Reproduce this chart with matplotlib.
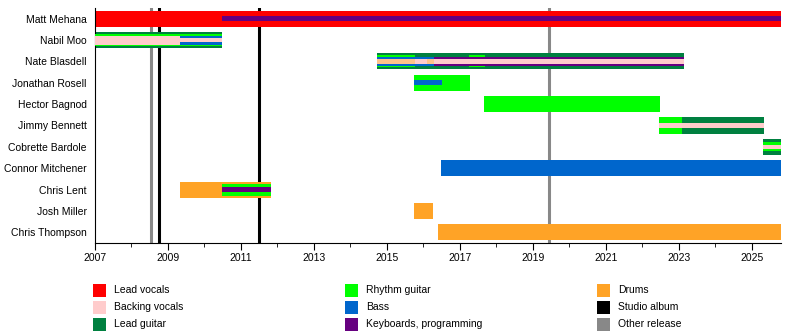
import matplotlib
matplotlib.use("Agg")
from matplotlib import pyplot as plt
from matplotlib.patches import Rectangle

plt.rcParams['font.family'] = ['Liberation Sans', 'DejaVu Sans']
plt.rcParams['font.size'] = 7.5

members = ["Matt Mehana", "Nabil Moo", "Nate Blasdell", "Jonathan Rosell", "Hector Bagnod",
           "Jimmy Bennett", "Cobrette Bardole", "Connor Mitchener", "Chris Lent",
           "Josh Miller", "Chris Thompson"]

start_date = 2007.0
end_date = 2025.8

# (member, from, to, layer)  layer 0 = full bar, 3 = thin centre stripe
lead_vocals = [("Matt Mehana", 2007.0, 2025.8, 0)]
lead_guitar = [("Nabil Moo", 2007.0, 2010.48, 0),
               ("Nate Blasdell", 2014.73, 2023.14, 0),
               ("Jimmy Bennett", 2023.1, 2025.33, 0),
               ("Cobrette Bardole", 2025.3, 2025.8, 0)]
rhythm_guitar = [("Nabil Moo", 2007.0, 2010.48, 1),
                 ("Nate Blasdell", 2014.73, 2015.77, 1),
                 ("Nate Blasdell", 2017.25, 2017.68, 1),
                 ("Jonathan Rosell", 2015.74, 2017.27, 0),
                 ("Hector Bagnod", 2017.66, 2022.48, 0),
                 ("Jimmy Bennett", 2022.45, 2023.1, 0),
                 ("Cobrette Bardole", 2025.3, 2025.8, 2),
                 ("Chris Lent", 2010.48, 2011.82, 1)]
drums = [("Chris Lent", 2009.33, 2011.82, 0),
         ("Josh Miller", 2015.74, 2016.26, 0),
         ("Chris Thompson", 2016.4, 2025.8, 0)]
bass = [("Nabil Moo", 2009.33, 2010.48, 2),
        ("Nate Blasdell", 2014.73, 2016.3, 2),
        ("Jonathan Rosell", 2015.74, 2016.5, 3),
        ("Connor Mitchener", 2016.48, 2025.8, 0)]
keyboards = [("Matt Mehana", 2010.48, 2025.8, 3),
             ("Nate Blasdell", 2016.3, 2023.14, 2),
             ("Chris Lent", 2010.48, 2011.82, 3)]
nate_drums = [("Nate Blasdell", 2014.73, 2015.77, 3),
              ("Nate Blasdell", 2016.1, 2016.3, 3)]
backing_vocals = [("Nabil Moo", 2007.0, 2009.33, 2),
                  ("Nabil Moo", 2009.33, 2010.48, 3),
                  ("Nate Blasdell", 2015.77, 2016.1, 3),
                  ("Nate Blasdell", 2016.3, 2023.14, 3),
                  ("Jimmy Bennett", 2022.45, 2025.33, 3),
                  ("Cobrette Bardole", 2025.3, 2025.8, 3)]

studio_albums = [2008.75, 2011.49]
other_releases = [2008.53, 2019.44]

colors = {
    "Lead vocals": "#ff0000",
    "Backing vocals": "#ffcccc",
    "Lead guitar": "#008040",
    "Rhythm guitar": "#00ff00",
    "Bass": "#0066cc",
    "Keyboards, programming": "#660080",
    "Drums": "#ffa326",
    "Studio album": "#000000",
    "Other release": "#888888",
}
heights = [0.75, 0.56, 0.42, 0.22]

fig = plt.figure(figsize=(8, 3.35), dpi=100)
ax = fig.add_axes([95/800, 92/335, (781-95)/800, (327-92)/335])

def draw(segments, color, z):
    for name, a, b, layer in segments:
        ax.barh(members.index(name), b - a, left=a, height=heights[layer],
                color=color, linewidth=0, zorder=z)

draw(lead_vocals, colors["Lead vocals"], 2)
draw(lead_guitar, colors["Lead guitar"], 2)
draw(drums, colors["Drums"], 2)
draw(rhythm_guitar, colors["Rhythm guitar"], 3)
draw(bass, colors["Bass"], 4)
draw(keyboards, colors["Keyboards, programming"], 4)
draw(backing_vocals, colors["Backing vocals"], 5)
draw(nate_drums, "#ffc38a", 5)

for x in studio_albums:
    ax.axvline(x, color=colors["Studio album"], lw=2.2, zorder=1)
for x in other_releases:
    ax.axvline(x, color=colors["Other release"], lw=2.2, zorder=1)

ax.set_xlim(start_date, end_date)
ax.set_ylim(len(members) - 0.5, -0.5)
ax.set_yticks(range(len(members)))
ax.set_yticklabels(members)
ax.tick_params(axis='y', length=0, pad=6)
ax.set_xticks(range(2007, 2026, 2))
ax.set_xticks(range(2007, 2026), minor=True)
ax.tick_params(axis='x', which='major', length=5, pad=2)
ax.tick_params(axis='x', which='minor', length=3)
ax.spines['top'].set_visible(False)
ax.spines['right'].set_visible(False)

legend_cols = [["Lead vocals", "Backing vocals", "Lead guitar"],
               ["Rhythm guitar", "Bass", "Keyboards, programming"],
               ["Drums", "Studio album", "Other release"]]
col_x = [93, 345, 597]
row_y = [290, 307, 324]
for cx, items in zip(col_x, legend_cols):
    for ry, label in zip(row_y, items):
        fig.add_artist(Rectangle((cx/800, (335 - ry - 6.5)/335), 13/800, 13/335,
                                 transform=fig.transFigure, color=colors[label], lw=0))
        fig.text((cx + 21)/800, (335 - ry)/335, label, va='center', ha='left')

fig.savefig("out.png", dpi=100)
